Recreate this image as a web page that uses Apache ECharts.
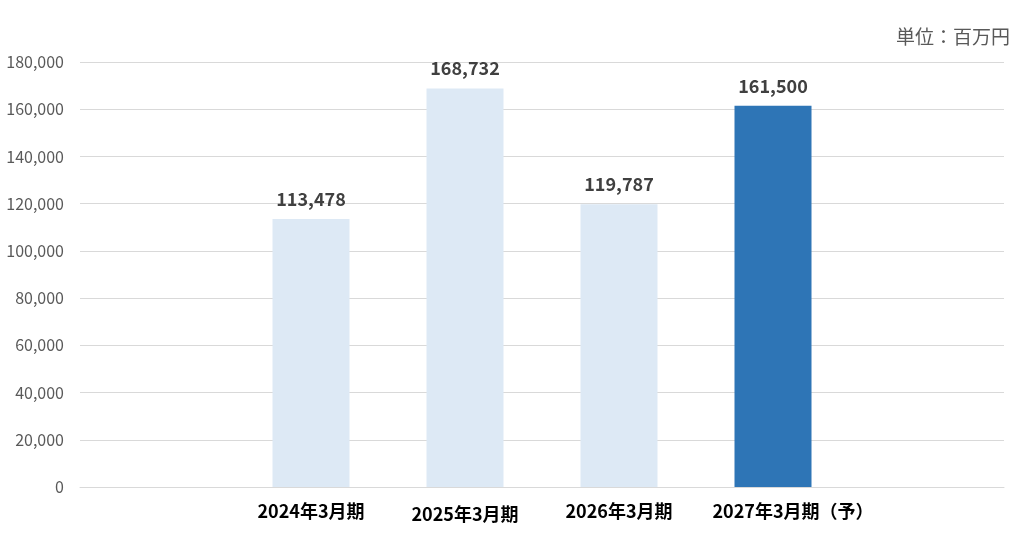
<!DOCTYPE html>
<html>
<head>
<meta charset="utf-8">
<script src="https://cdn.jsdelivr.net/npm/echarts@6/dist/echarts.min.js"></script>
<style>
  html, body { margin: 0; padding: 0; background: #fff; }
  #chart { width: 1021px; height: 537px; }
</style>
</head>
<body>
<div id="chart"></div>
<script>
const categories = ["", "2024年3月期", "2025年3月期", "2026年3月期", "2027年3月期（予）", ""];
const sales = [null, 113478, 168732, 119787, 161500, null];
const barColors = ["#dde9f5", "#dde9f5", "#dde9f5", "#dde9f5", "#2e75b6", "#dde9f5"];
const unitLabel = "単位：百万円";

const font = "'Noto Sans CJK JP', 'Noto Sans', sans-serif";
const myChart = echarts.init(document.getElementById("chart"));

// small per-label nudges seen in the original picture
const labelPadding = [null, null, [3, 0, 0, 0], null, [0, 0, 0, 40], null];

const options = {
  animation: false,
  textStyle: { fontFamily: font },
  graphic: [
    {
      type: "text",
      right: 11,
      top: 27,
      style: { text: unitLabel, fontSize: 19, fill: "#595959", fontFamily: font },
    },
  ],
  grid: { left: 80, right: 17, top: 62, bottom: 50 },
  xAxis: {
    type: "category",
    data: categories.map((c, i) =>
      labelPadding[i] ? { value: c, textStyle: { padding: labelPadding[i] } } : c
    ),
    axisTick: { show: false },
    axisLine: { lineStyle: { color: "#d9d9d9" } },
    axisLabel: {
      interval: 0,
      margin: 15,
      fontSize: 18,
      fontWeight: "bold",
      color: "#000",
    },
  },
  yAxis: {
    type: "value",
    min: 0,
    max: 180000,
    interval: 20000,
    axisLine: { show: false },
    axisTick: { show: false },
    splitLine: { lineStyle: { color: "#d9d9d9" } },
    axisLabel: {
      margin: 16,
      fontSize: 16,
      color: "#595959",
      formatter: (v) => v.toLocaleString("en-US"),
    },
  },
  series: [
    {
      type: "bar",
      barWidth: "50%",
      data: sales.map((v, i) => ({ value: v, itemStyle: { color: barColors[i] } })),
      label: {
        show: true,
        position: "top",
        distance: 11,
        fontSize: 18,
        fontWeight: "bold",
        color: "#404040",
        formatter: (p) => (p.value == null ? "" : p.value.toLocaleString("en-US")),
      },
    },
  ],
};

myChart.setOption(options);
</script>
</body>
</html>
